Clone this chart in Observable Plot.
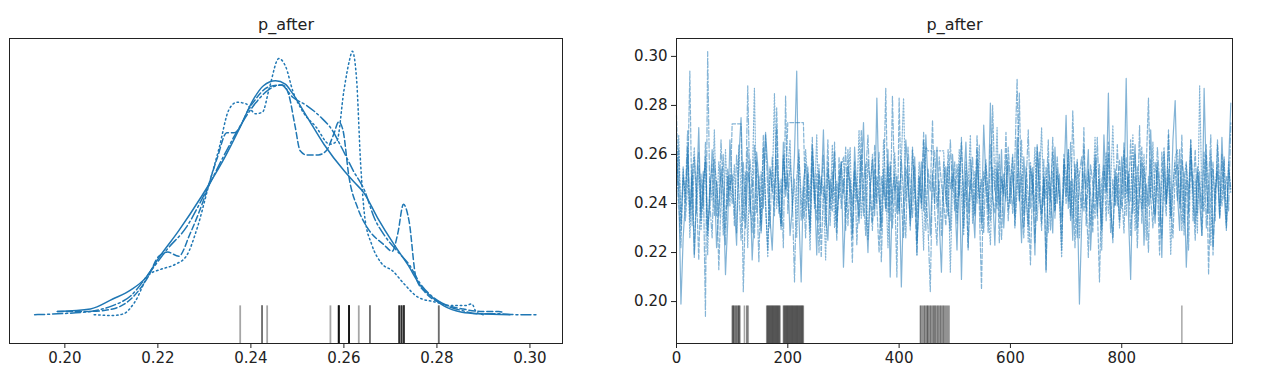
<!DOCTYPE html>
<html>
<head>
<meta charset="utf-8">
<script src="https://cdn.jsdelivr.net/npm/d3@7"></script>
<script src="https://cdn.jsdelivr.net/npm/@observablehq/plot@0.6"></script>
<style>
  html, body { margin: 0; padding: 0; background: #fff; }
  #wrap { position: relative; width: 1269px; height: 383px; font-family: "DejaVu Sans", sans-serif; }
  #left, #right { position: absolute; top: 0; }
  #left { left: 0; }
  #right { left: 600px; }
</style>
</head>
<body>
<div id="wrap"><div id="left"></div><div id="right"></div></div>
<script>
// ---------------- DATA ----------------
const varName = "p_after";

// KDE per chain: [value, density]
const kdeChain0 = [[0.1984,0.5],[0.2055,0.8],[0.2103,2.0],[0.2142,3.1],[0.2174,4.6],[0.2202,7.0],[0.2245,10.3],[0.2292,14.3],[0.2340,18.8],[0.2377,22.9],[0.2406,26.3],[0.2427,27.9],[0.2453,28.5],[0.2474,28.1],[0.2488,27.1],[0.2521,24.1],[0.2557,20.8],[0.2600,17.6],[0.2622,16.2],[0.2643,14.9],[0.2672,11.9],[0.2708,8.6],[0.2737,6.2],[0.2765,3.6],[0.2790,2.2],[0.2814,1.2],[0.2854,0.4],[0.2893,0.2],[0.2957,0.1]];
const kdeChain1 = [[0.1984,0.5],[0.2055,0.5],[0.2103,0.8],[0.2142,2.0],[0.2178,4.6],[0.2202,7.2],[0.2221,7.7],[0.2245,7.2],[0.2269,9.9],[0.2300,14.3],[0.2328,19.2],[0.2348,22.2],[0.2364,22.2],[0.2400,25.5],[0.2440,27.8],[0.2468,28.0],[0.2481,26.9],[0.2495,23.0],[0.2506,20.0],[0.2520,19.5],[0.2545,19.5],[0.2562,20.0],[0.2578,22.0],[0.2589,23.5],[0.2598,22.5],[0.2611,16.8],[0.2630,13.0],[0.2650,10.7],[0.2686,8.6],[0.2704,7.8],[0.2716,10.0],[0.2728,13.5],[0.2740,11.5],[0.2755,4.6],[0.2775,2.8],[0.2815,1.4],[0.2855,0.8],[0.2894,0.5],[0.2933,0.5],[0.2941,0.4]];
const kdeChain2 = [[0.1935,0.1],[0.1984,0.2],[0.2055,0.5],[0.2103,1.2],[0.2142,2.4],[0.2182,5.2],[0.2221,8.1],[0.2261,10.7],[0.2300,14.7],[0.2340,19.2],[0.2379,23.2],[0.2410,25.8],[0.2440,27.5],[0.2465,28.0],[0.2490,26.5],[0.2520,25.5],[0.2550,24.1],[0.2575,22.5],[0.2595,20.4],[0.2620,17.6],[0.2645,15.1],[0.2665,11.9],[0.2690,9.5],[0.2715,7.8],[0.2740,6.2],[0.2765,3.8],[0.2790,2.3],[0.2814,1.4],[0.2854,0.6],[0.2893,0.2],[0.2933,0.2],[0.2973,0.1],[0.3016,0.1]];
const kdeChain3 = [[0.2063,0.1],[0.2103,0.0],[0.2126,0.2],[0.2150,1.6],[0.2182,5.0],[0.2206,5.6],[0.2237,6.2],[0.2261,7.2],[0.2285,10.7],[0.2308,15.5],[0.2332,20.4],[0.2352,24.9],[0.2370,25.9],[0.2390,25.7],[0.2410,24.5],[0.2425,24.7],[0.2440,27.7],[0.2460,31.2],[0.2475,30.2],[0.2490,27.3],[0.2510,24.9],[0.2540,22.9],[0.2570,20.8],[0.2585,21.2],[0.2600,27.3],[0.2612,31.0],[0.2618,32.1],[0.2627,28.9],[0.2636,18.4],[0.2645,11.9],[0.2660,8.6],[0.2680,6.4],[0.2705,5.4],[0.2730,3.8],[0.2760,2.2],[0.2800,1.6],[0.2830,1.2],[0.2860,1.2],[0.2875,1.4],[0.2885,0.4],[0.2900,0.1]];

// Divergent samples: parameter values (left) and draw indices (right)
const divValues = [0.2377,0.2424,0.2424,0.2435,0.2571,0.2589,0.2589,0.2589,0.2589,0.2589,0.2589,0.2611,0.2611,0.2611,0.2611,0.2611,0.2611,0.2632,0.2656,0.2656,0.2719,0.2719,0.2719,0.2719,0.2724,0.2724,0.2724,0.2724,0.2729,0.2729,0.2729,0.2729,0.2804,0.2804];
const divDraws = [100,101,102,103,104,106,107,108,110,111,112,113,114,122,126,127,129,
162,163,164,165,166,167,168,169,170,171,172,173,174,175,176,177,178,179,180,181,182,183,184,185,186,
192,193,194,195,196,197,198,199,200,201,202,203,204,205,206,207,208,209,210,211,212,213,214,215,216,217,218,219,220,221,222,223,224,225,226,227,228,
438,439,441,443,445,446,448,450,451,452,454,456,457,459,461,462,464,465,467,469,470,472,474,475,477,479,480,482,484,486,488,490,908];

// Trace: sampled every 4th draw (draws 0..996), one row = 100 draws
const traceStep = 4;
const traceChain0 = [
0.258,0.247,0.199,0.226,0.241,0.263,0.236,0.252,0.218,0.244,0.271,0.233,0.249,0.257,0.229,0.240,0.262,0.251,0.222,0.237,0.254,0.245,0.211,0.232,0.266,
0.248,0.239,0.223,0.259,0.275,0.242,0.230,0.253,0.247,0.217,0.236,0.261,0.250,0.228,0.244,0.269,0.255,0.234,0.221,0.246,0.258,0.240,0.231,0.265,0.243,
0.252,0.227,0.238,0.260,0.294,0.235,0.208,0.249,0.256,0.241,0.230,0.264,0.247,0.219,0.253,0.244,0.270,0.236,0.225,0.250,0.242,0.261,0.233,0.246,0.257,
0.214,0.239,0.255,0.248,0.226,0.263,0.244,0.232,0.251,0.273,0.240,0.220,0.247,0.258,0.235,0.283,0.243,0.229,0.254,0.238,0.262,0.210,0.245,0.252,0.236,
0.249,0.206,0.241,0.266,0.253,0.231,0.245,0.259,0.224,0.242,0.257,0.237,0.268,0.248,0.227,0.252,0.240,0.263,0.233,0.212,0.246,0.255,0.238,0.229,0.260,
0.243,0.221,0.256,0.209,0.247,0.265,0.236,0.250,0.241,0.226,0.258,0.244,0.232,0.272,0.249,0.237,0.281,0.245,0.223,0.254,0.239,0.262,0.230,0.248,0.257,
0.240,0.253,0.235,0.267,0.246,0.224,0.259,0.243,0.231,0.255,0.248,0.219,0.264,0.242,0.236,0.251,0.212,0.257,0.245,0.228,0.263,0.240,0.252,0.234,0.247,
0.276,0.238,0.249,0.225,0.256,0.243,0.199,0.232,0.253,0.246,0.262,0.221,0.241,0.258,0.235,0.250,0.229,0.268,0.244,0.285,0.237,0.226,0.254,0.247,0.233,
0.259,0.242,0.291,0.236,0.209,0.251,0.264,0.230,0.245,0.257,0.223,0.248,0.239,0.270,0.243,0.232,0.255,0.247,0.218,0.261,0.240,0.252,0.235,0.266,0.282,
0.244,0.229,0.258,0.250,0.214,0.238,0.263,0.246,0.232,0.255,0.241,0.227,0.287,0.249,0.236,0.260,0.222,0.245,0.253,0.234,0.267,0.243,0.230,0.256,0.281];
const traceChain1 = [
0.276,0.240,0.222,0.255,0.233,0.248,0.294,0.231,0.259,0.244,0.217,0.252,0.238,0.265,0.227,0.246,0.256,0.235,0.249,0.213,0.242,0.260,0.230,0.251,0.239,
0.2725,0.2725,0.2725,0.2725,0.2725,0.204,0.241,0.263,0.236,0.250,0.226,0.257,0.245,0.232,0.268,0.239,0.221,0.254,0.247,0.235,0.279,0.243,0.229,0.258,0.246,
0.273,0.273,0.273,0.273,0.273,0.273,0.273,0.273,0.237,0.252,0.228,0.261,0.244,0.233,0.256,0.218,0.247,0.240,0.266,0.231,0.253,0.245,0.225,0.259,0.238,
0.250,0.229,0.262,0.241,0.216,0.254,0.246,0.235,0.270,0.243,0.227,0.258,0.248,0.232,0.264,0.239,0.220,0.251,0.244,0.287,0.236,0.257,0.230,0.247,0.210,
0.283,0.241,0.226,0.255,0.247,0.234,0.263,0.243,0.219,0.251,0.238,0.266,0.229,0.254,0.245,0.274,0.236,0.223,0.259,0.248,0.240,0.231,0.262,0.246,0.252,
0.237,0.256,0.243,0.267,0.230,0.249,0.221,0.258,0.245,0.235,0.262,0.240,0.205,0.253,0.247,0.228,0.264,0.242,0.236,0.257,0.224,0.250,0.244,0.269,0.233,
0.248,0.260,0.231,0.245,0.285,0.239,0.226,0.255,0.243,0.215,0.252,0.237,0.263,0.246,0.229,0.258,0.213,0.249,0.241,0.267,0.234,0.254,0.244,0.227,0.260,
0.243,0.262,0.235,0.250,0.222,0.257,0.246,0.238,0.271,0.231,0.253,0.244,0.228,0.260,0.240,0.208,0.249,0.256,0.233,0.265,0.242,0.224,0.251,0.239,0.258,
0.245,0.228,0.259,0.241,0.266,0.236,0.251,0.222,0.247,0.263,0.238,0.255,0.283,0.243,0.230,0.257,0.249,0.219,0.261,0.245,0.235,0.270,0.240,0.226,0.252,
0.256,0.240,0.268,0.232,0.250,0.221,0.258,0.244,0.262,0.236,0.253,0.227,0.247,0.264,0.211,0.245,0.257,0.233,0.266,0.248,0.239,0.259,0.229,0.254,0.246];
const traceChain2 = [
0.238,0.262,0.229,0.251,0.244,0.270,0.233,0.256,0.219,0.247,0.261,0.236,0.253,0.194,0.302,0.240,0.226,0.258,0.248,0.235,0.266,0.242,0.223,0.254,0.245,
0.252,0.231,0.260,0.246,0.225,0.257,0.239,0.288,0.243,0.228,0.264,0.249,0.216,0.253,0.238,0.268,0.245,0.230,0.259,0.241,0.271,0.236,0.250,0.222,0.284,
0.236,0.258,0.243,0.208,0.250,0.262,0.233,0.247,0.226,0.255,0.241,0.267,0.238,0.252,0.220,0.246,0.260,0.231,0.254,0.243,0.237,0.265,0.228,0.249,0.257,
0.244,0.263,0.231,0.250,0.239,0.257,0.223,0.246,0.260,0.235,0.252,0.268,0.242,0.229,0.254,0.240,0.261,0.216,0.248,0.237,0.256,0.233,0.284,0.245,0.251,
0.237,0.258,0.242,0.226,0.263,0.247,0.234,0.255,0.219,0.251,0.240,0.269,0.244,0.230,0.204,0.253,0.261,0.238,0.249,0.227,0.257,0.243,0.235,0.266,0.246,
0.257,0.232,0.248,0.265,0.239,0.253,0.222,0.245,0.259,0.236,0.268,0.242,0.250,0.228,0.256,0.244,0.233,0.280,0.247,0.238,0.260,0.225,0.252,0.241,0.263,
0.249,0.236,0.258,0.291,0.241,0.252,0.230,0.247,0.270,0.238,0.255,0.224,0.244,0.261,0.232,0.250,0.242,0.266,0.229,0.253,0.237,0.259,0.245,0.221,0.256,
0.240,0.262,0.233,0.278,0.246,0.226,0.252,0.259,0.237,0.244,0.218,0.256,0.248,0.234,0.267,0.241,0.231,0.254,0.245,0.260,0.228,0.250,0.239,0.264,0.243,
0.238,0.265,0.244,0.252,0.227,0.247,0.260,0.236,0.272,0.232,0.255,0.243,0.220,0.258,0.241,0.235,0.263,0.249,0.226,0.253,0.240,0.268,0.234,0.247,0.257,
0.241,0.262,0.229,0.250,0.257,0.236,0.266,0.244,0.225,0.253,0.247,0.238,0.261,0.230,0.249,0.268,0.219,0.245,0.256,0.234,0.260,0.242,0.251,0.237,0.273];
const traceChain3 = [
0.245,0.268,0.232,0.254,0.240,0.261,0.226,0.248,0.263,0.236,0.255,0.229,0.244,0.259,0.219,0.250,0.241,0.270,0.235,0.257,0.247,0.227,0.262,0.239,0.252,
0.240,0.256,0.228,0.264,0.244,0.233,0.253,0.222,0.258,0.247,0.287,0.236,0.251,0.229,0.263,0.242,0.218,0.255,0.245,0.285,0.238,0.249,0.231,0.260,0.246,
0.253,0.266,0.237,0.250,0.226,0.259,0.243,0.234,0.262,0.248,0.221,0.256,0.240,0.268,0.233,0.251,0.244,0.217,0.257,0.238,0.264,0.230,0.249,0.242,0.255,
0.259,0.236,0.247,0.263,0.228,0.252,0.241,0.270,0.234,0.249,0.256,0.225,0.244,0.260,0.238,0.251,0.243,0.232,0.266,0.247,0.222,0.255,0.240,0.261,0.245,
0.236,0.258,0.283,0.241,0.252,0.229,0.262,0.246,0.235,0.257,0.244,0.221,0.263,0.2615,0.2615,0.2615,0.2615,0.2615,0.2615,0.2615,0.2615,0.240,0.256,0.212,0.249,
0.250,0.236,0.262,0.244,0.227,0.257,0.247,0.268,0.232,0.253,0.240,0.264,0.229,0.249,0.258,0.238,0.223,0.255,0.245,0.271,0.234,0.251,0.243,0.260,0.237,
0.246,0.259,0.230,0.253,0.241,0.266,0.236,0.250,0.224,0.257,0.244,0.263,0.233,0.248,0.271,0.239,0.255,0.228,0.245,0.261,0.237,0.252,0.242,0.218,0.258,
0.253,0.241,0.265,0.234,0.249,0.258,0.226,0.247,0.263,0.238,0.254,0.231,0.244,0.267,0.240,0.256,0.221,0.250,0.261,0.236,0.247,0.272,0.239,0.252,0.230,
0.246,0.262,0.235,0.253,0.241,0.268,0.229,0.255,0.244,0.238,0.260,0.225,0.251,0.242,0.265,0.236,0.257,0.231,0.248,0.263,0.240,0.254,0.219,0.247,0.259,
0.262,0.238,0.251,0.227,0.256,0.244,0.266,0.233,0.250,0.228,0.288,0.243,0.237,0.260,0.245,0.223,0.254,0.241,0.264,0.235,0.249,0.258,0.232,0.257,0.244];

const leftTicks = [0.20, 0.22, 0.24, 0.26, 0.28, 0.30];
const rightYTicks = [0.20, 0.22, 0.24, 0.26, 0.28, 0.30];
const rightXTicks = [0, 200, 400, 600, 800];

// ---------------- STYLE ----------------
const blue = "#1f77b4";
const dashes = [null, "6,3", "10,3,2,3", "1.5,3"];
const traceDashes = [null, "4,2", "6,2,1.5,2", "1.2,1.8"];
const kdeChains = [kdeChain0, kdeChain1, kdeChain2, kdeChain3];
const traceChains = [traceChain0, traceChain1, traceChain2, traceChain3];
const textColor = "#222";
const tickFont = 15;

// ---------------- LEFT: KDE ----------------
const leftMarks = [];
kdeChains.forEach((c, i) => {
  leftMarks.push(Plot.line(c, {x: d => d[0], y: d => d[1], stroke: blue, strokeWidth: 1.5,
    strokeDasharray: dashes[i], curve: "monotone-x"}));
});
leftMarks.push(Plot.ruleX(divValues, {x: d => d, y1: -3.40, y2: 1.17, stroke: "black", strokeOpacity: 0.35, strokeWidth: 1.8}));
leftMarks.push(Plot.frame({stroke: textColor, strokeWidth: 1}));
leftMarks.push(Plot.axisX({ticks: leftTicks, tickFormat: d3.format(".2f"), tickSize: 5, tickPadding: 4, fontSize: tickFont, label: null, color: textColor}));
leftMarks.push(Plot.text([varName], {frameAnchor: "top", dy: -20, fontSize: 16, fill: textColor}));

const left = Plot.plot({
  width: 600, height: 383,
  marginLeft: 9, marginRight: 38, marginTop: 38, marginBottom: 40,
  style: {fontFamily: "DejaVu Sans, sans-serif", fontSize: "15px", background: "white", overflow: "visible"},
  x: {domain: [0.1881, 0.3070]},
  y: {domain: [-3.40, 33.64], axis: null},
  marks: leftMarks
});
document.getElementById("left").appendChild(left);

// ---------------- RIGHT: TRACE ----------------
const rightMarks = [];
traceChains.forEach((c, i) => {
  const rows = c.map((v, k) => ({draw: k * traceStep, value: v}));
  rightMarks.push(Plot.line(rows, {x: "draw", y: "value", stroke: blue, strokeOpacity: 0.55, strokeWidth: 1.2,
    strokeDasharray: traceDashes[i]}));
});
rightMarks.push(Plot.ruleX(divDraws, {x: d => d, y1: 0.1829, y2: 0.1982, stroke: "black", strokeOpacity: 0.35, strokeWidth: 1.5}));
rightMarks.push(Plot.frame({stroke: textColor, strokeWidth: 1}));
rightMarks.push(Plot.axisX({ticks: rightXTicks, tickFormat: d3.format("d"), tickSize: 5, tickPadding: 4, fontSize: tickFont, label: null, color: textColor}));
rightMarks.push(Plot.axisY({ticks: rightYTicks, tickFormat: d3.format(".2f"), tickSize: 5, tickPadding: 4, fontSize: tickFont, label: null, color: textColor}));
rightMarks.push(Plot.text([varName], {frameAnchor: "top", dy: -20, fontSize: 16, fill: textColor}));

const right = Plot.plot({
  width: 669, height: 383,
  marginLeft: 76, marginRight: 37, marginTop: 38, marginBottom: 40,
  style: {fontFamily: "DejaVu Sans, sans-serif", fontSize: "15px", background: "white", overflow: "visible"},
  x: {domain: [0, 999]},
  y: {domain: [0.1829, 0.3073]},
  marks: rightMarks
});
document.getElementById("right").appendChild(right);
</script>
</body>
</html>
